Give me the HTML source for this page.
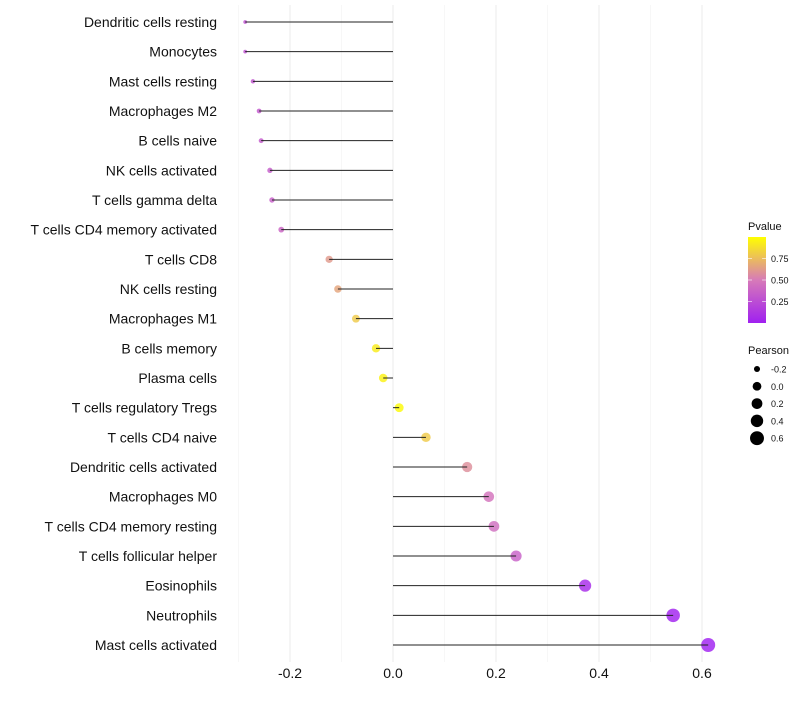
<!DOCTYPE html>
<html><head><meta charset="utf-8"><style>
body{margin:0;background:#fff;font-family:"Liberation Sans",sans-serif}
svg text{font-family:"Liberation Sans",sans-serif}
</style></head><body>
<svg id="chart" width="800" height="700">
<defs><linearGradient id="pg" x1="0" y1="1" x2="0" y2="0">
<stop offset="0" stop-color="#a020f0"/><stop offset="0.5" stop-color="#d77ab8"/><stop offset="1" stop-color="#ffff00"/>
</linearGradient></defs>
<g id="grid"></g><g id="points"></g><g id="marks"></g><g id="labels"></g><g id="legend"></g>
</svg>
<script>
const categories=["Dendritic cells resting","Monocytes","Mast cells resting","Macrophages M2","B cells naive","NK cells activated","T cells gamma delta","T cells CD4 memory activated","T cells CD8","NK cells resting","Macrophages M1","B cells memory","Plasma cells","T cells regulatory  Tregs","T cells CD4 naive","Dendritic cells activated","Macrophages M0","T cells CD4 memory resting","T cells follicular helper","Eosinophils","Neutrophils","Mast cells activated"];
const pearson=[-0.287,-0.287,-0.272,-0.260,-0.256,-0.239,-0.235,-0.217,-0.124,-0.107,-0.072,-0.033,-0.019,0.012,0.064,0.144,0.186,0.196,0.239,0.373,0.544,0.612];
const pvalue=[0.27,0.27,0.29,0.31,0.32,0.34,0.35,0.38,0.62,0.66,0.80,0.93,0.95,0.98,0.80,0.58,0.46,0.44,0.36,0.06,0.01,0.003];
const xTicks=[-0.2,0,0.2,0.4,0.6];
const xTickLabels=["-0.2","0.0","0.2","0.4","0.6"];
const minorTicks=[-0.3,-0.1,0.1,0.3,0.5];
const sizeLegend=[-0.2,0.0,0.2,0.4,0.6];
const sizeLegendLabels=["-0.2","0.0","0.2","0.4","0.6"];
const pTicks=[0.25,0.5,0.75];
const pTickLabels=["0.25","0.50","0.75"];

const NS="http://www.w3.org/2000/svg";
const X=v=>393+v*515;
const Y=i=>22+i*(623/21);
const R=v=>1.7+5.3*Math.pow(Math.max(0,(v+0.29)/0.9),0.6);
function lerp(a,b,t){return a.map((c,k)=>Math.round(c+(b[k]-c)*t));}
function col(p){const s=[[160,32,240],[215,122,184],[255,255,0]];
 const c=p<0.5?lerp(s[0],s[1],p/0.5):lerp(s[1],s[2],(p-0.5)/0.5);return `rgb(${c})`;}
function mk(t,a,parent){const e=document.createElementNS(NS,t);for(const k in a)e.setAttribute(k,a[k]);document.getElementById(parent).appendChild(e);return e;}

minorTicks.forEach(v=>{const l=mk('line',{x1:X(v),x2:X(v),y1:5,y2:662,stroke:'#f2f2f2','stroke-width':0.6},'grid');

});
xTicks.forEach((v,i)=>{const l=mk('line',{x1:X(v),x2:X(v),y1:5,y2:662,stroke:'#ebebeb','stroke-width':1},'grid');


const t=mk('text',{x:X(v),y:678,'text-anchor':'middle','font-size':14,fill:'#111'},'labels');t.textContent=xTickLabels[i];

});

categories.forEach((c,i)=>{const y=Y(i);
 const t=mk('text',{x:217,y:y+5,'text-anchor':'end','font-size':14,fill:'#111'},'labels');t.textContent=c;
 
 
 const d=mk('circle',{cx:X(pearson[i]),cy:y,r:R(pearson[i]),fill:col(pvalue[i]),'fill-opacity':0.82},'points');
 
 
 const l=mk('line',{x1:X(0),x2:X(pearson[i]),y1:y,y2:y,stroke:'#222','stroke-width':1},'marks');
 
 });

const lt=mk('text',{x:748,y:230,'font-size':11,fill:'#111'},'legend');lt.textContent='Pvalue';


const bar=mk('rect',{x:748,y:237,width:18,height:86,fill:'url(#pg)'},'legend');


pTicks.forEach((p,i)=>{const y=323-p*86;
 mk('line',{x1:748,x2:752,y1:y,y2:y,stroke:'#fff','stroke-width':0.6},'legend');
 mk('line',{x1:762,x2:766,y1:y,y2:y,stroke:'#fff','stroke-width':0.6},'legend');
 const t=mk('text',{x:771,y:y+3.5,'font-size':9,fill:'#111'},'legend');t.textContent=pTickLabels[i];
 
 });
const st=mk('text',{x:748,y:354,'font-size':11,fill:'#111'},'legend');st.textContent='Pearson';


sizeLegend.forEach((v,i)=>{const y=369+i*17.3;
 const c=mk('circle',{cx:757,cy:y,r:R(v),fill:'#000'},'legend');
 
 
 const t=mk('text',{x:771,y:y+3.5,'font-size':9,fill:'#111'},'legend');t.textContent=sizeLegendLabels[i];
 
 });
</script>
</body></html>
